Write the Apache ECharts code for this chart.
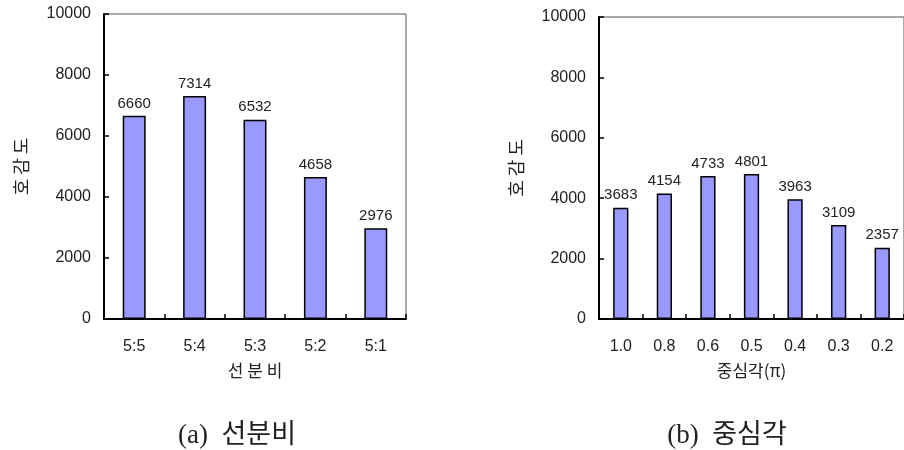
<!DOCTYPE html>
<html>
<head>
<meta charset="utf-8">
<script src="https://cdn.jsdelivr.net/npm/echarts@6/dist/echarts.min.js"></script>
<style>
html,body{margin:0;padding:0;background:#fff;}
#chart{width:904px;height:450px;}
</style>
</head>
<body>
<div id="chart"></div>
<script>
// Chart (a): 선분비
const catsA = ['5:5', '5:4', '5:3', '5:2', '5:1'];
const valsA = [6660, 7314, 6532, 4658, 2976];
// Chart (b): 중심각
const catsB = ['1.0', '0.8', '0.6', '0.5', '0.4', '0.3', '0.2'];
const valsB = [3683, 4154, 4733, 4801, 3963, 3109, 2357];
const yTicks = [0, 2000, 4000, 6000, 8000, 10000];
const yTitle = '호 감 도';
const xTitleA = '선 분 비';
const xTitleB = '중심각(π)';
const captionA = '(a)  선분비';
const captionB = '(b)  중심각';

const sans = "'Liberation Sans', Arial, 'Noto Sans CJK KR', sans-serif";
const kr = "'Noto Sans CJK KR', 'Liberation Sans', sans-serif";
const serif = "'Liberation Serif', 'Noto Sans CJK KR', serif";

const chart = echarts.init(document.getElementById('chart'));

function xAxis(idx, cats, name) {
  return {
    type: 'category', gridIndex: idx, data: cats,
    name: name, nameLocation: 'middle', nameGap: 43,
    nameTextStyle: {fontFamily: kr, fontSize: 17, color: '#222'},
    axisLine: {show: true, lineStyle: {color: '#000', width: 2}},
    axisTick: {show: true, inside: true, length: 5, lineStyle: {color: '#000', width: 1.5}},
    axisLabel: {margin: 20, fontFamily: sans, fontSize: 16, color: '#222'},
    splitLine: {show: false}
  };
}
function yAxis(idx) {
  return {
    type: 'value', gridIndex: idx, min: yTicks[0], max: yTicks[yTicks.length - 1], interval: 2000,
    name: yTitle, nameLocation: 'middle', nameGap: 74, nameRotate: 90,
    nameTextStyle: {fontFamily: kr, fontSize: 18, color: '#222'},
    axisLine: {show: true, lineStyle: {color: '#000', width: 2}},
    axisTick: {show: true, inside: true, length: 5, lineStyle: {color: '#000', width: 1.5}},
    axisLabel: {margin: 13, fontFamily: sans, fontSize: 16, color: '#222', formatter: v => String(v)},
    splitLine: {show: false}
  };
}
function barSeries(idx, vals, bw) {
  return {
    type: 'bar', xAxisIndex: idx, yAxisIndex: idx, data: vals, barWidth: bw,
    itemStyle: {color: '#9999FF', borderColor: '#000', borderWidth: 1.5},
    label: {show: true, position: 'top', distance: 5, fontFamily: sans, fontSize: 15, color: '#222'},
    animation: false
  };
}

chart.setOption({
  animation: false,
  title: [
    {text: captionA, left: 232, top: 417, textAlign: 'center',
     textStyle: {fontFamily: serif, fontSize: 27, fontWeight: 'normal', color: '#222'}},
    {text: captionB, left: 722, top: 417, textAlign: 'center',
     textStyle: {fontFamily: serif, fontSize: 27, fontWeight: 'normal', color: '#222'}}
  ],
  grid: [
    {left: 104, top: 14, width: 302, height: 305, show: true, borderColor: '#555', borderWidth: 1, backgroundColor: 'transparent'},
    {left: 599, top: 17, width: 308, height: 302, show: true, borderColor: '#555', borderWidth: 1, backgroundColor: 'transparent'}
  ],
  xAxis: [xAxis(0, catsA, xTitleA), xAxis(1, catsB, xTitleB)],
  yAxis: [yAxis(0), yAxis(1)],
  series: [barSeries(0, valsA, '38%'), barSeries(1, valsB, '35%')]
});
</script>
</body>
</html>
